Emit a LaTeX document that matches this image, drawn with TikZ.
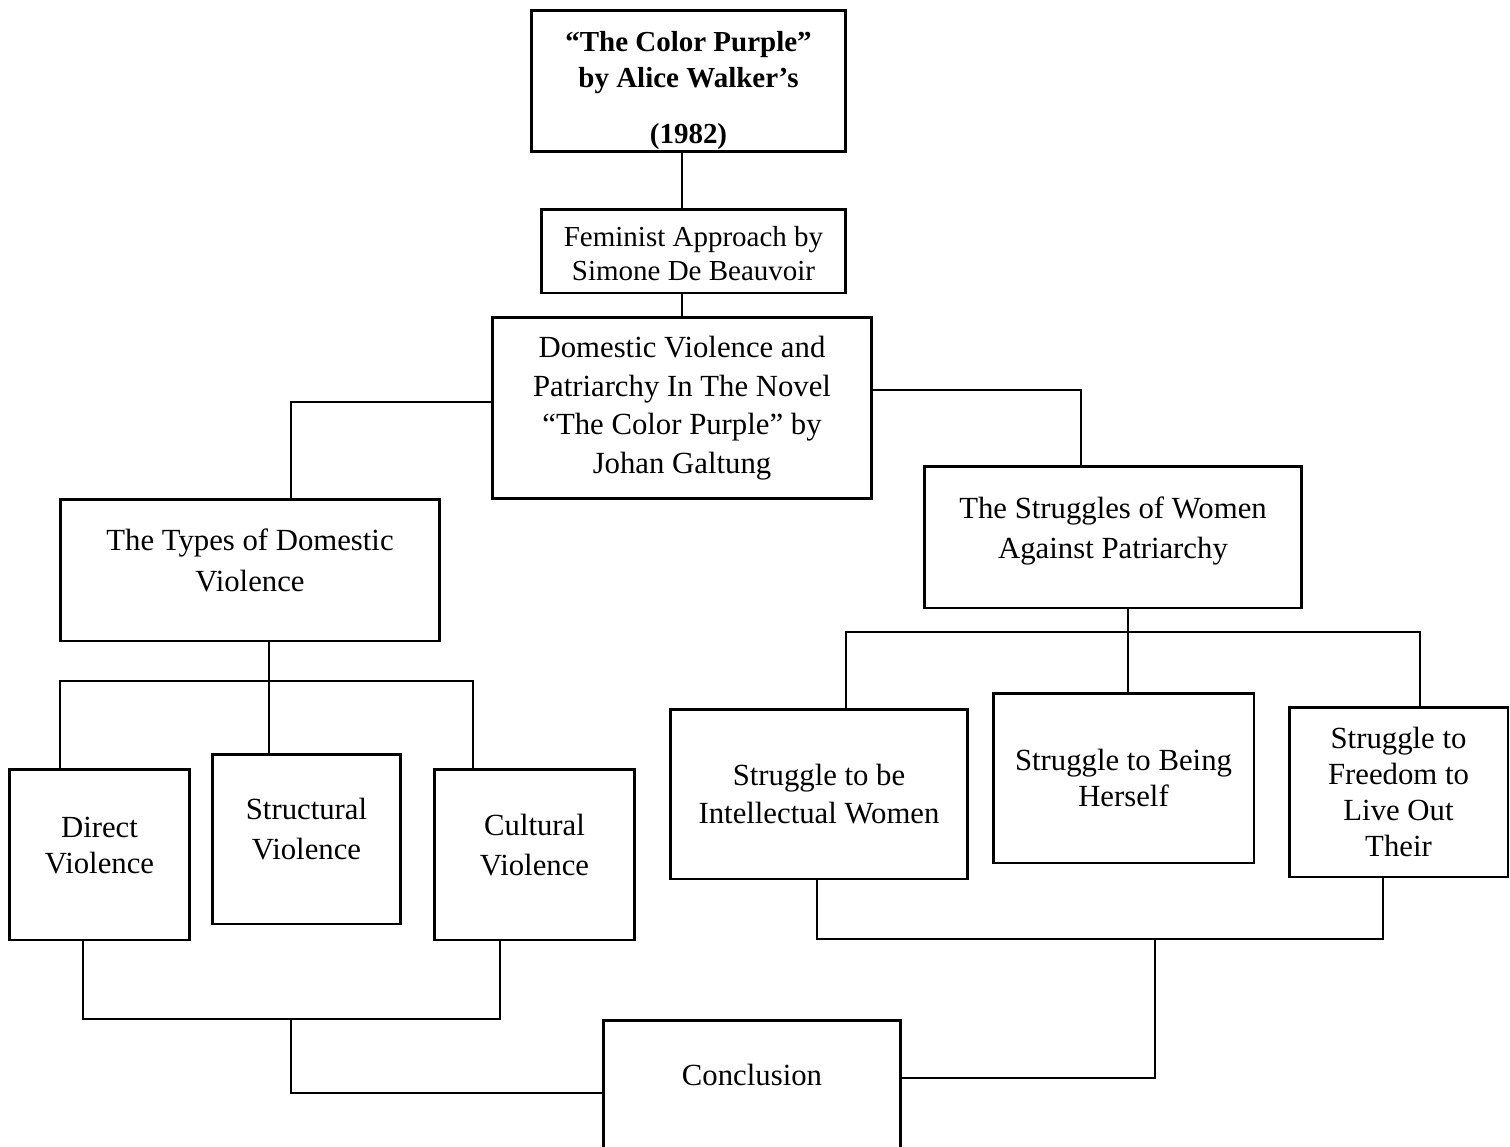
\documentclass[tikz,border=0pt]{standalone}
\usepackage{fontspec}
\setmainfont{Liberation Serif}
\usepackage{tikz}
\usetikzlibrary{positioning,calc}
\tikzset{
  box/.style={draw=black, line width=1.7pt, fill=white, align=center, inner sep=0pt, font=\fontsize{17.5}{21.5}\selectfont},
  titlebox/.style={box, font=\fontsize{16.5}{20.5}\selectfont\bfseries},
  lift/.style={execute at end node={\rule[-#1]{0pt}{0pt}}},
  link/.style={draw=black, line width=1.1pt}
}

\begin{document}
\begin{tikzpicture}[x=0.02cm, y=-0.02cm]
  \clip (0,0) rectangle (1510,1146);
  \fill[white] (0,0) rectangle (1510,1146);

  % top of the tree
  \node[titlebox, minimum width=6.30cm, minimum height=2.84cm] (novel) at (688.5,81) {\rule{0pt}{0.79cm}``The Color Purple''\\by Alice Walker's\\[0.4cm](1982)};
  \node[box, minimum width=6.10cm, minimum height=1.68cm, font=\fontsize{16.5}{19.5}\selectfont] (feminist) at (693.5,251) {\rule{0pt}{0.5cm}Feminist Approach by\\Simone De Beauvoir};
  \node[box, minimum width=7.60cm, minimum height=3.64cm, font=\fontsize{17.5}{22}\selectfont] (domestic) at (682,408) {Domestic Violence and\\Patriarchy In The Novel\\``The Color Purple'' by\\Johan Galtung};

  % two branches
  \node[box, lift=0.4cm, minimum width=7.60cm, minimum height=2.84cm, font=\fontsize{17.5}{23}\selectfont] (types) at (250,570) {The Types of Domestic\\Violence};
  \node[box, lift=0.37cm, minimum width=7.56cm, minimum height=2.84cm, font=\fontsize{17.5}{23}\selectfont] (struggles) at (1113,537) {The Struggles of Women\\Against Patriarchy};

  \node[box, lift=0.38cm, minimum width=3.62cm, minimum height=3.42cm, font=\fontsize{17.5}{20.5}\selectfont] (direct) at (99.5,854.5) {Direct\\Violence};
  \node[box, lift=0.4cm, minimum width=3.78cm, minimum height=3.40cm, font=\fontsize{17.5}{23}\selectfont] (structural) at (306.5,839) {Structural\\Violence};
  \node[box, lift=0.38cm, minimum width=4.02cm, minimum height=3.42cm, font=\fontsize{17.5}{22.5}\selectfont] (cultural) at (534.5,854.5) {Cultural\\Violence};

  \node[box, minimum width=5.96cm, minimum height=3.40cm] (intellect) at (819,794) {Struggle to be\\Intellectual Women};
  \node[box, minimum width=5.22cm, minimum height=3.40cm, font=\fontsize{17.5}{20.5}\selectfont] (herself) at (1123.5,778) {Struggle to Being\\Herself};
  \node[box, minimum width=4.38cm, minimum height=3.40cm, font=\fontsize{17.5}{20.5}\selectfont] (freedom) at (1398.5,792) {Struggle to\\Freedom to\\Live Out\\Their};

  \node[box, minimum width=5.96cm, text height=1.3cm, text depth=1.72cm, anchor=north] (conclusion) at (752,1019) {Conclusion};

  % connectors
  \draw[link] (novel.south -| domestic.north) -- (feminist.north -| domestic.north);
  \draw[link] (feminist.south -| domestic.north) -- (domestic.north);
  \draw[link] ([yshift=0.12cm]domestic.west) -| ([xshift=0.82cm]types.north);
  \draw[link] ([yshift=0.36cm]domestic.east) -| ([xshift=-0.64cm]struggles.north);

  \coordinate (tleft) at (60,681);
  \coordinate (tright) at (473,681);
  \coordinate (tmid) at (269,681);
  \draw[link] (tleft |- direct.north) -- (tleft) -- (tright) -- (tright |- cultural.north);
  \draw[link] (types.south -| tmid) -- (tmid |- structural.north);

  \coordinate (sleft) at (846,632);
  \coordinate (sright) at (1420,632);
  \coordinate (smid) at (1128,632);
  \draw[link] (sleft |- intellect.north) -- (sleft) -- (sright) -- (sright |- freedom.north);
  \draw[link] (struggles.south -| smid) -- (smid |- herself.north);

  \coordinate (bleft) at (83,1019);
  \coordinate (bright) at (500,1019);
  \coordinate (ljoin) at (291,1093);
  \draw[link] (bleft |- direct.south) -- (bleft) -- (bright) -- (bright |- cultural.south);
  \draw[link] (ljoin |- bleft) -- (ljoin) -- (ljoin -| conclusion.west);

  \coordinate (qleft) at (817,939);
  \coordinate (qright) at (1383,939);
  \coordinate (rjoin) at (1155,1078);
  \draw[link] (qleft |- intellect.south) -- (qleft) -- (qright) -- (qright |- freedom.south);
  \draw[link] (rjoin |- qleft) -- (rjoin) -- (rjoin -| conclusion.east);
\end{tikzpicture}
\end{document}
